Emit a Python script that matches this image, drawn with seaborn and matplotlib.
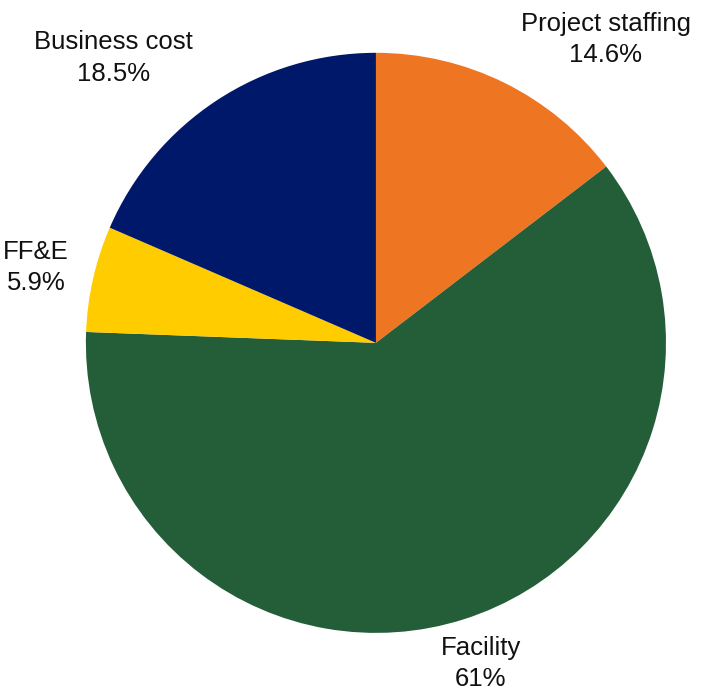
import numpy as np
import matplotlib
matplotlib.use("Agg")
import matplotlib.pyplot as plt
import seaborn as sns

sns.set_theme(style="white")
plt.rcParams['font.family'] = ['Liberation Sans', 'DejaVu Sans']

categories = ["Project staffing", "Facility", "FF&E", "Business cost"]
values = [14.6, 61.0, 5.9, 18.5]
pct_labels = ["14.6%", "61%", "5.9%", "18.5%"]
colors = ["#EE7623", "#245E38", "#FFCC00", "#001869"]

fig = plt.figure(figsize=(7.04, 7.0), dpi=100)
ax = fig.add_axes([0.122, 0.0957, 0.824, 0.829])
wedges, _ = ax.pie(values, colors=colors, startangle=90, counterclock=False,
                   wedgeprops=dict(linewidth=0))
ax.set_aspect('equal')
ax.set_xlim(-1, 1)
ax.set_ylim(-1, 1)

for w, cat, pl in zip(wedges, categories, pct_labels):
    ang = np.deg2rad((w.theta1 + w.theta2) / 2)
    c, s = np.cos(ang), np.sin(ang)
    r = 1.06
    x, y = r * c, r * s
    side = abs(s) < 0.4
    if c > 0.35:
        ha = 'left'
        x += 0.03
    elif c < -0.35:
        ha = 'right'
        x -= 0.025 if side else 0.05
    else:
        ha = 'center'
        x += 0.04
    if side:
        va = 'center'
        y += 0.025
    elif s > 0:
        va = 'bottom'
    else:
        va = 'top'
    ax.text(x, y, f"{cat}\n{pl}", ha=ha, va=va, multialignment='center',
            fontsize=18.5, color='#111111', linespacing=1.4, clip_on=False)

fig.savefig("out.png", dpi=100)
